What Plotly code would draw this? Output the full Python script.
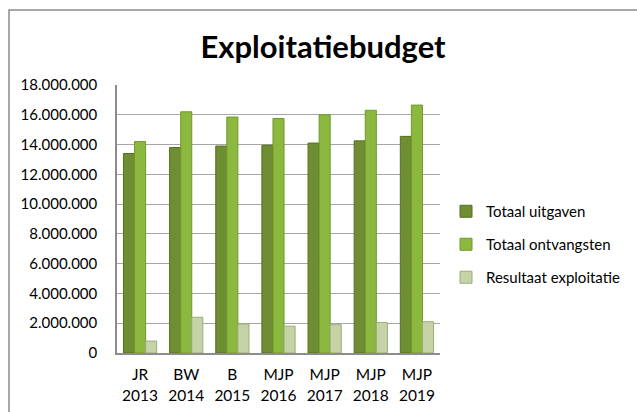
import plotly.graph_objects as go

categories = ["JR<br>2013", "BW<br>2014", "B<br>2015", "MJP<br>2016", "MJP<br>2017", "MJP<br>2018", "MJP<br>2019"]
totaal_uitgaven = [13400000, 13800000, 13900000, 13950000, 14100000, 14250000, 14550000]
totaal_ontvangsten = [14200000, 16200000, 15850000, 15750000, 16000000, 16300000, 16650000]
resultaat_exploitatie = [800000, 2400000, 1950000, 1800000, 1900000, 2050000, 2100000]
series_names = ["Totaal uitgaven", "Totaal ontvangsten", "Resultaat exploitatie"]
y_ticks = [0, 2000000, 4000000, 6000000, 8000000, 10000000, 12000000, 14000000, 16000000, 18000000]

colors = ["#6F8E33", "#8DB83F", "#C5D3A6"]
edges = ["#55701F", "#6E9A2A", "#9AAB7C"]

FONT = "Lato"
W, H = 637, 412
L, R, T, B = 117, 440, 85, 353

fig = go.Figure()
for name, vals, c, e in zip(series_names, [totaal_uitgaven, totaal_ontvangsten, resultaat_exploitatie], colors, edges):
    fig.add_trace(go.Bar(
        x=categories, y=vals, name=name, legendgroup=name,
        marker=dict(color=c, line=dict(color=e, width=1)),
    ))

pw = R - L
ph = B - T
fig.update_layout(
    width=W, height=H,
    margin=dict(l=L, r=W - R, t=T, b=H - B, pad=0, autoexpand=False),
    paper_bgcolor="white", plot_bgcolor="white",
    separators=",.",
    barmode="group", bargap=0.28, bargroupgap=0.0,
    font=dict(family=FONT, size=15, color="#000000"),
    title=dict(text="<b>Exploitatiebudget</b>", x=323 / W, xanchor="center",
               y=1 - 47 / H, yanchor="middle", font=dict(family=FONT, size=31, color="#000000")),
    legend=dict(x=(446 - L) / pw, xanchor="left", y=(B - 195) / ph, yanchor="top",
                traceorder="grouped", tracegroupgap=10.5, font=dict(family=FONT, size=15),
                itemwidth=30, bgcolor="rgba(0,0,0,0)"),
    xaxis=dict(showline=True, linecolor="#8C8C8C", linewidth=1.5, ticks="", showgrid=False,
               tickfont=dict(family=FONT, size=15.5), ticklabelstandoff=7, automargin=False),
    yaxis=dict(range=[0, 18000000], tickvals=y_ticks, tickformat=",d",
               showline=True, linecolor="#8C8C8C", linewidth=1.5,
               showgrid=True, gridcolor="#A6A6A6", gridwidth=1.2,
               ticks="", ticklen=0, tickfont=dict(family=FONT, size=15), zeroline=False,
               ticklabelstandoff=15, automargin=False),
    shapes=[dict(type="rect", xref="paper", yref="paper",
                 x0=(9 - L) / pw, x1=(760 - L) / pw, y0=(B - 500) / ph, y1=(B - 10) / ph,
                 line=dict(color="#8C8C8C", width=1.5), fillcolor="rgba(0,0,0,0)", layer="below")],
)
fig.write_html("out.html", config={"displayModeBar": False},
               post_script="document.body.style.margin='0';document.body.style.overflow='hidden';")
